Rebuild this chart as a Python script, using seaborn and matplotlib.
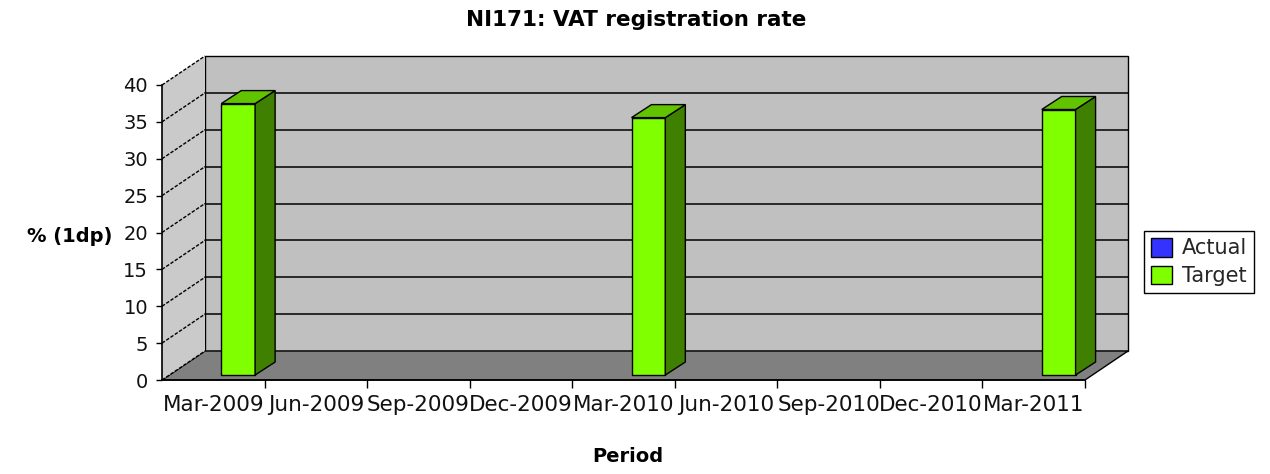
import matplotlib
matplotlib.use("Agg")
import matplotlib.pyplot as plt
import matplotlib.transforms as mtransforms
from matplotlib.patches import Polygon, Rectangle, Patch
import numpy as np
import pandas as pd
import seaborn as sns

# ---- data ----
periods = ["Mar-2009", "Jun-2009", "Sep-2009", "Dec-2009", "Mar-2010",
           "Jun-2010", "Sep-2010", "Dec-2010", "Mar-2011"]
actual = [None, None, None, None, None, None, None, None, None]
target = [36.8, None, None, None, 34.9, None, None, None, 36.0]
series_names = ["Actual", "Target"]
y_ticks = [0, 5, 10, 15, 20, 25, 30, 35, 40]

front_colors = {"Actual": "#3333ff", "Target": "#80ff00"}
side_colors = {"Actual": "#1a1a80", "Target": "#408000"}
top_colors = {"Actual": "#2828cc", "Target": "#62c400"}

sns.set_theme(style="white")
plt.rcParams["font.family"] = ["DejaVu Sans"]

W, H = 1270, 474
fig = plt.figure(figsize=(W / 100, H / 100), dpi=100)
fig.patch.set_facecolor("white")

# front plane axes (pixels: x 162..1085, y 85..380 from top)
ax = fig.add_axes([162 / W, (H - 380) / H, 923 / W, 295 / H])
ax.patch.set_visible(False)

n = len(periods)
x0, x1 = -0.5, n - 0.5
ymax = 40

pxx = 923 / n          # pixels per category
pxy = 295 / ymax       # pixels per unit
DXU = 43 / pxx         # wall depth in data units
DYU = 29 / pxy

# ---- bars (front faces via seaborn), manual dodge over the two series ----
group_width = 0.66
k = len(series_names)
bw = group_width / k
bar_off = ax.transData + mtransforms.ScaledTranslation(8 / 100, 5 / 100, fig.dpi_scale_trans)
BDX = 20 / pxx
BDY = 13 / pxy

bar_info = []
for i, (name, vals) in enumerate(zip(series_names, [actual, target])):
    sub = pd.DataFrame({"Period": periods, "Value": vals}).dropna()
    if sub.empty:
        continue
    before = len(ax.patches)
    sns.barplot(data=sub, x="Period", y="Value", order=periods, color=front_colors[name],
                saturation=1, width=bw, edgecolor="black", linewidth=1.0, ax=ax)
    shift = (i - (k - 1) / 2) * bw
    for p in ax.patches[before:]:
        p.set_x(p.get_x() + shift)
        bar_info.append((p, name))

ax.set_xlim(x0, x1)
ax.set_ylim(0, ymax)

wall_kw = dict(clip_on=False, edgecolor="black", linewidth=1.0)
# floor
ax.add_patch(Polygon([(x0, 0), (x1, 0), (x1 + DXU, DYU), (x0 + DXU, DYU)],
                     facecolor="#808080", zorder=0.5, **wall_kw))
# left wall
ax.add_patch(Polygon([(x0, 0), (x0 + DXU, DYU), (x0 + DXU, ymax + DYU), (x0, ymax)],
                     facecolor="#cacaca", zorder=0.5, clip_on=False, linewidth=0))
# back wall
ax.add_patch(Rectangle((x0 + DXU, DYU), x1 - x0, ymax,
                       facecolor="#c0c0c0", zorder=0.4, **wall_kw))
# grid lines on back wall and left wall
for v in y_ticks:
    if 0 < v < ymax:
        ax.plot([x0 + DXU, x1 + DXU], [v + DYU, v + DYU], color="black",
                lw=1.1, zorder=1, clip_on=False)
    ax.plot([x0, x0 + DXU], [v, v + DYU], color="black", lw=1.0,
            ls=(0, (2.5, 1.2)), zorder=1, clip_on=False)

# 3D sides and tops of the bars
for p, name in bar_info:
    h = p.get_height()
    if not np.isfinite(h) or h == 0:
        continue
    bx, w = p.get_x(), p.get_width()
    p.set_transform(bar_off)
    p.set_zorder(5)
    p.set_clip_on(False)
    side = Polygon([(bx + w, 0), (bx + w + BDX, BDY), (bx + w + BDX, h + BDY), (bx + w, h)],
                   facecolor=side_colors[name], edgecolor="black", lw=1.0,
                   transform=bar_off, zorder=5, clip_on=False)
    top = Polygon([(bx, h), (bx + BDX, h + BDY), (bx + w + BDX, h + BDY), (bx + w, h)],
                  facecolor=top_colors[name], edgecolor="black", lw=1.0,
                  transform=bar_off, zorder=5, clip_on=False)
    ax.add_patch(side)
    ax.add_patch(top)

# ---- axes styling ----
for s in ["top", "right"]:
    ax.spines[s].set_visible(False)
for s in ["left", "bottom"]:
    ax.spines[s].set_color("black")
    ax.spines[s].set_linewidth(1.2)
    ax.spines[s].set_zorder(6)

ax.set_yticks(y_ticks)
ax.set_yticklabels([str(v) for v in y_ticks], fontsize=14)
ax.set_xticks(range(n))
ax.set_xticklabels(periods, fontsize=15.5)
ax.set_xticks(np.arange(0.5, n, 1.0), minor=True)
ax.tick_params(axis="y", left=True, direction="out", length=4, width=1, pad=6,
               color="black", labelcolor="#111111")
ax.tick_params(axis="x", which="major", bottom=True, length=0, pad=11, labelcolor="#111111")
ax.tick_params(axis="x", which="minor", bottom=True, direction="out", length=6, width=1, color="black")
ax.set_xlabel("")
ax.set_ylabel("")
ax.grid(False)

# ---- texts ----
fig.text(636 / W, (H - 20) / H, "NI171: VAT registration rate", ha="center", va="center",
         fontsize=15.5, fontweight="bold", color="black")
fig.text(112 / W, (H - 237) / H, "% (1dp)", ha="right", va="center",
         fontsize=14, fontweight="bold", color="black")
fig.text(628 / W, (H - 457) / H, "Period", ha="center", va="center",
         fontsize=14, fontweight="bold", color="black")

# ---- legend ----
handles = [Patch(facecolor=front_colors[s], edgecolor="black", linewidth=1.0) for s in series_names]
leg = fig.legend(handles, series_names, loc="center left",
                 bbox_to_anchor=(1144 / W, (H - 262) / H), fontsize=15,
                 frameon=True, fancybox=False, framealpha=1, edgecolor="black",
                 handlelength=1.0, handleheight=1.0, handletextpad=0.45,
                 labelspacing=0.35, borderpad=0.35, borderaxespad=0)
leg.get_frame().set_linewidth(1.0)

fig.savefig("out.png", dpi=100, facecolor="white")
